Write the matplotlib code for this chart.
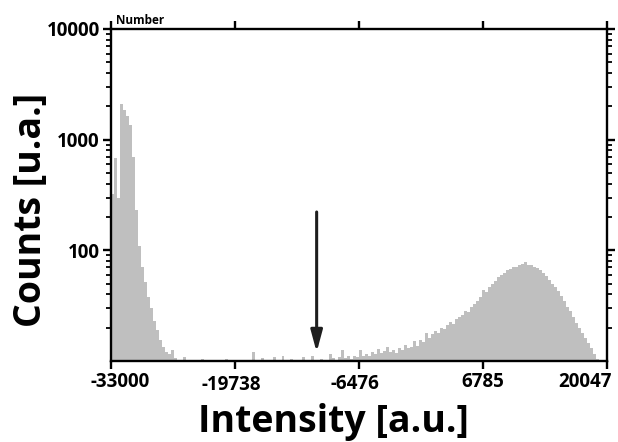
import matplotlib
matplotlib.use("Agg")
import matplotlib.pyplot as plt
import matplotlib.transforms as mtransforms
import numpy as np
from matplotlib.ticker import LogLocator, NullFormatter

# histogram: bins of 320 units starting at -33000
bin_start = -33000
bin_width = 320
counts = [
    320, 680, 300, 2100, 1850, 1650, 1350, 700, 230, 110,
    70, 52, 38, 30, 23, 19, 15.5, 13.5, 12, 11.5,
    12.5, 10.6, 0, 0, 10.8, 0, 0, 0, 0, 0,
    10.5, 0, 0, 0, 0, 0, 0, 0, 10.5, 0,
    0, 0, 0, 0, 0, 0, 0, 12, 0, 0,
    10.6, 0, 0, 0, 10.8, 0, 0, 11, 0, 0,
    10.5, 0, 0, 0, 10.8, 0, 0, 11, 0, 0,
    10.4, 0, 0, 11.5, 10.6, 0, 10.8, 12.5, 10.7, 11,
    10.5, 11.2, 10.8, 12.5, 11, 11.5, 11.2, 12, 11.5, 12.8,
    11.8, 12.2, 13.5, 12, 12.5, 11.8, 13, 12.5, 14, 13,
    13.5, 15, 13.8, 15.5, 14.8, 18, 16, 17.5, 18.5, 17.8,
    20, 19.5, 21, 22.5, 21.5, 24, 25, 26, 28.5, 27.5,
    31, 33, 35, 38, 44, 42, 47, 50, 53, 57,
    60, 63, 66, 68, 70, 71, 73, 76, 78, 74,
    73, 71, 69, 66, 62, 58, 54, 50, 47, 43,
    39, 35, 31, 28, 25, 22, 20, 18, 16, 14.5,
    13, 11.5, 10.5,
]
x_ticks = [-33000, -19738, -6476, 6785, 20047]
x_labels = ["-33000", "-19738", "-6476", "6785", "20047"]
y_ticks = [100, 1000, 10000]
y_labels = ["100", "1000", "10000"]
arrow_x = -11000
arrow_from = 222
arrow_to = 12

plt.rcParams["font.family"] = ["Open Sans", "DejaVu Sans"]
plt.rcParams["font.weight"] = "bold"

fig = plt.figure(figsize=(6.18, 4.42), dpi=100)
ax = fig.add_axes([0.1796, 0.1833, 0.8024, 0.7511])

edges = bin_start + bin_width * np.arange(len(counts))
ax.bar(edges, counts, width=bin_width, align="edge", color="#bfbfbf",
       edgecolor="none", linewidth=0)

ax.set_yscale("log")
ax.set_xlim(-33000, 20047)
ax.set_ylim(10, 10000)

ax.set_xticks(x_ticks)
ax.set_xticklabels(x_labels, fontsize=13.5, fontweight="bold")
ax.set_yticks(y_ticks)
ax.set_yticklabels(y_labels, fontsize=13.5, fontweight="bold")
ax.yaxis.set_minor_locator(LogLocator(base=10, subs=np.arange(2, 10)))
ax.yaxis.set_minor_formatter(NullFormatter())

for sp in ax.spines.values():
    sp.set_linewidth(1.7)
    sp.set_color("black")

ax.tick_params(axis="both", which="major", direction="out", length=6, width=1.7,
               top=True, right=True, pad=2)
ax.tick_params(axis="y", which="minor", direction="out", length=3.5, width=1.3,
               right=True)

# nudge end labels inward like the original
lbls = ax.get_xticklabels()
lbls[0].set_transform(lbls[0].get_transform() +
                      mtransforms.ScaledTranslation(9 / 100, 0, fig.dpi_scale_trans))
lbls[-1].set_transform(lbls[-1].get_transform() +
                       mtransforms.ScaledTranslation(-22 / 100, 0, fig.dpi_scale_trans))
lbls[1].set_transform(lbls[1].get_transform() +
                      mtransforms.ScaledTranslation(-4 / 100, -3 / 100, fig.dpi_scale_trans))
lbls[2].set_transform(lbls[2].get_transform() +
                      mtransforms.ScaledTranslation(-4 / 100, -2 / 100, fig.dpi_scale_trans))

ax.annotate("", xy=(arrow_x, arrow_to), xytext=(arrow_x, arrow_from),
            arrowprops=dict(arrowstyle="-|>,head_length=1.3,head_width=0.35",
                            color="#1e1e1e", lw=2.2, shrinkA=0, shrinkB=0))

ax.text(0.01, 1.005, "Number", transform=ax.transAxes, fontsize=8.5,
        fontweight="bold", ha="left", va="bottom")

fig.text(0.05, 0.525, "Counts [u.a.]", rotation=90, ha="center", va="center",
         fontsize=27, fontweight="bold")
fig.text(0.539, 0.045, "Intensity [a.u.]", ha="center", va="center",
         fontsize=27, fontweight="bold")

fig.savefig("out.png", dpi=100)
